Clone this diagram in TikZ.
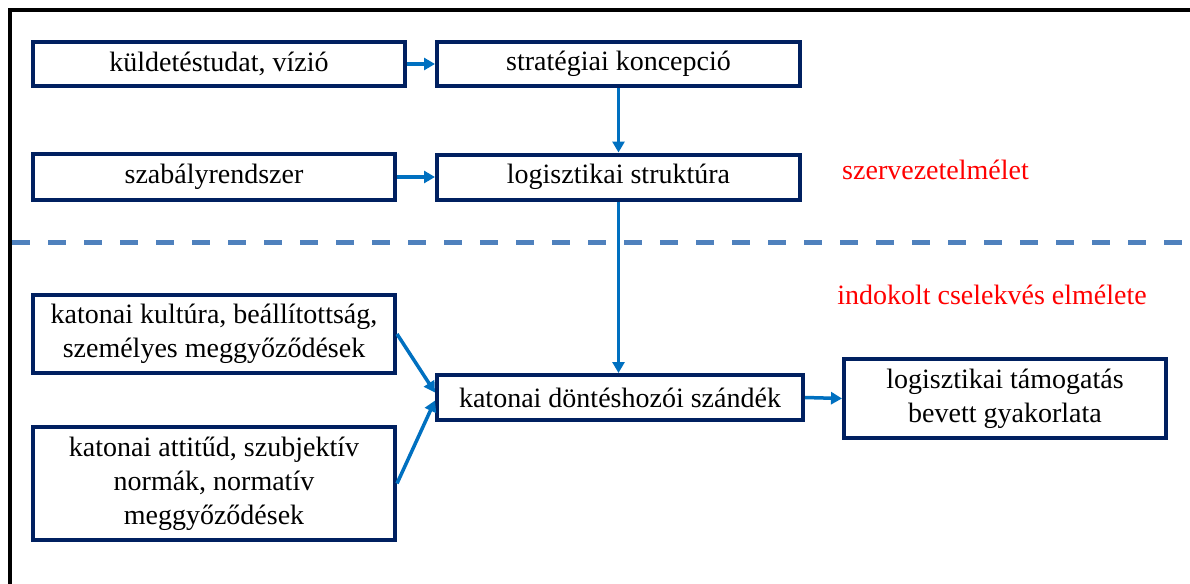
\documentclass[tikz,border=0pt]{standalone}
\usepackage{fontspec}
\setmainfont{Liberation Serif}
\usetikzlibrary{arrows.meta}
\definecolor{boxnavy}{HTML}{002060}
\definecolor{arrowblue}{HTML}{0070C0}
\definecolor{dashblue}{HTML}{4F81BD}
\begin{document}
\begin{tikzpicture}[x=1pt,y=-1pt,
  stepbox/.style={draw=boxnavy,line width=4pt,fill=white,align=center,
    inner sep=0pt,font=\fontsize{28pt}{34pt}\selectfont},
  flow/.style={draw=arrowblue,line width=3.5pt,
    -{Triangle[length=11pt,width=12pt]}},
  theory/.style={text=red,font=\fontsize{28pt}{34pt}\selectfont}]
  \path[use as bounding box] (0,0) rectangle (1190,583);
  \fill[white] (0,0) rectangle (1190,583);
  % outer frame, open at right and bottom
  \begin{scope}
    \clip (0,0) rectangle (1190,583);
    \draw[line width=4pt,line join=miter] (9.5,600) -- (9.5,10) -- (1200,10);
  \end{scope}
  % divider between the two theory regions
  \draw[dashblue,line width=5pt,dash pattern=on 18pt off 18pt] (12,242) -- (1190,242);

  % boxes
  \node[stepbox,minimum width=372pt,minimum height=44pt] (mission) at (219,64) {küldetéstudat, vízió};
  \node[stepbox,minimum width=363pt,minimum height=44pt] (strategy) at (618.5,64) {stratégiai koncepció};
  \node[stepbox,minimum width=362pt,minimum height=46pt] (rules) at (214,177) {szabályrendszer};
  \node[stepbox,minimum width=363pt,minimum height=45pt] (structure) at (618.5,177) {logisztikai struktúra};
  \node[stepbox,minimum width=362pt,minimum height=78pt] (culture) at (214,334) {katonai kultúra, beállítottság,\\személyes meggyőződések};
  \node[stepbox,minimum width=362pt,minimum height=113pt] (attitude) at (214,483.5) {katonai attitűd, szubjektív\\normák, normatív\\meggyőződések};
  \node[stepbox,minimum width=366pt,minimum height=45pt] (intent) at (620,397.5) {katonai döntéshozói szándék};
  \node[stepbox,minimum width=322pt,minimum height=79pt] (practice) at (1005,398.5) {logisztikai támogatás\\bevett gyakorlata};

  % region labels
  \node[theory] (org) at (935.5,170) {szervezetelmélet};
  \node[theory] (tra) at (992,295) {indokolt cselekvés elmélete};

  % connectors
  \draw[flow] (mission.east) -- (strategy.west);
  \draw[flow] (rules.east) -- (structure.west);
  \draw[flow] (strategy.south) -- (structure.north);
  \draw[flow] (structure.south) -- (structure.south |- intent.north);
  \draw[flow] (culture.east) -- ([yshift=5pt]intent.west);
  \draw[flow] (attitude.east) -- ([yshift=-3pt]intent.west);
  \draw[flow] (intent.east) -- (practice.west);
\end{tikzpicture}
\end{document}
